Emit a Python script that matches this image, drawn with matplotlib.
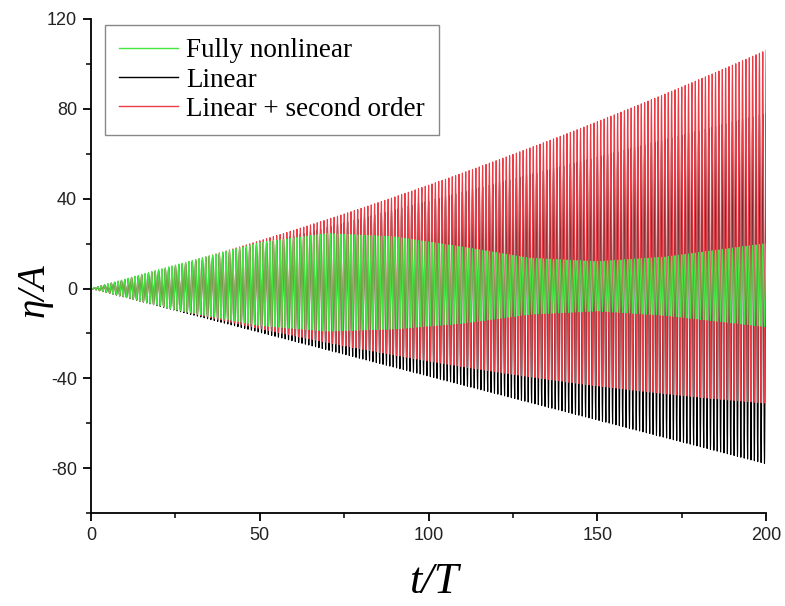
import numpy as np
import matplotlib
matplotlib.use('Agg')
import matplotlib.pyplot as plt

# envelopes (t/T, eta/A)
t_env = [0, 25, 50, 70, 90, 110, 130, 150, 170, 200]
green_upper = [0, 10.5, 20.5, 24.5, 23, 18.5, 13.5, 12, 14, 20]
green_lower = [0, -9.5, -16.5, -19, -18, -15.5, -11.5, -10, -12, -17]
lin_amp_end = 78      # linear amplitude at t/T = 200
red_upper_end = 106   # linear + second order crest at t/T = 200
red_lower_end = -51   # linear + second order trough at t/T = 200

# one wave per period T, 200 periods
t = np.linspace(0, 200, 200 * 24 + 1)
carrier = np.cos(2 * np.pi * t)

a = lin_amp_end * t / 200.0
eta_lin = a * carrier
# second order part grows with a^2
mid_red = (red_upper_end + red_lower_end) / 2.0 * (a / lin_amp_end) ** 2
half_red = a + (red_upper_end - red_lower_end - 2 * lin_amp_end) / 2.0 * (a / lin_amp_end) ** 2
eta_red = mid_red + half_red * carrier
gu = np.interp(t, t_env, green_upper)
gl = np.interp(t, t_env, green_lower)
eta_nl = (gu + gl) / 2 + (gu - gl) / 2 * carrier

fig = plt.figure(figsize=(7.85, 6.06), dpi=100)
ax = fig.add_axes([0.116, 0.153, 0.86, 0.816])

ax.plot(t, eta_lin, color='black', lw=0.8, label='Linear')
ax.plot(t, eta_red, color='#ec3c46', lw=0.8, label='Linear + second order')
ax.plot(t, eta_nl, color='#44e644', lw=0.8, label='Fully nonlinear')

ax.set_xlim(0, 200)
ax.set_ylim(-100, 120)
ax.set_xticks([0, 50, 100, 150, 200])
ax.set_xticks([25, 75, 125, 175], minor=True)
ax.set_yticks([-80, -40, 0, 40, 80, 120])
ax.set_yticks([-100, -60, -20, 20, 60, 100], minor=True)
ax.set_yticklabels(['-80', '-40', '0', '40', '80', '120'])

for s in ['top', 'right']:
    ax.spines[s].set_visible(False)
for s in ['left', 'bottom']:
    ax.spines[s].set_linewidth(1.3)
ax.tick_params(which='major', direction='out', length=6, width=1.3,
               labelsize=13, pad=4, labelcolor='#222222')
ax.tick_params(which='minor', direction='out', length=3.5, width=1.1)
for lab in ax.get_xticklabels() + ax.get_yticklabels():
    lab.set_family('Liberation Sans')

ax.set_xlabel('t/T', fontsize=32, family='Liberation Serif', style='italic',
              ha='center', va='center')
ax.xaxis.set_label_coords(0.507, -0.138)
ax.set_ylabel('η/A', fontsize=28, family='Liberation Serif', style='italic',
              ha='center', va='center')
ax.yaxis.set_label_coords(-0.084, 0.451)

h, l = ax.get_legend_handles_labels()
order = [2, 0, 1]
leg = ax.legend([h[i] for i in order], [l[i] for i in order],
                loc='upper left', bbox_to_anchor=(0.021, 0.988),
                borderaxespad=0,
                prop={'family': 'Liberation Serif', 'size': 19.5},
                fancybox=False, framealpha=1, edgecolor='#888888',
                handlelength=2.2, labelspacing=0.16, borderpad=0.5,
                handletextpad=0.3)
leg.get_frame().set_linewidth(1.0)
for line in leg.get_lines():
    line.set_linewidth(1.0)

fig.savefig('out.png', dpi=100)
